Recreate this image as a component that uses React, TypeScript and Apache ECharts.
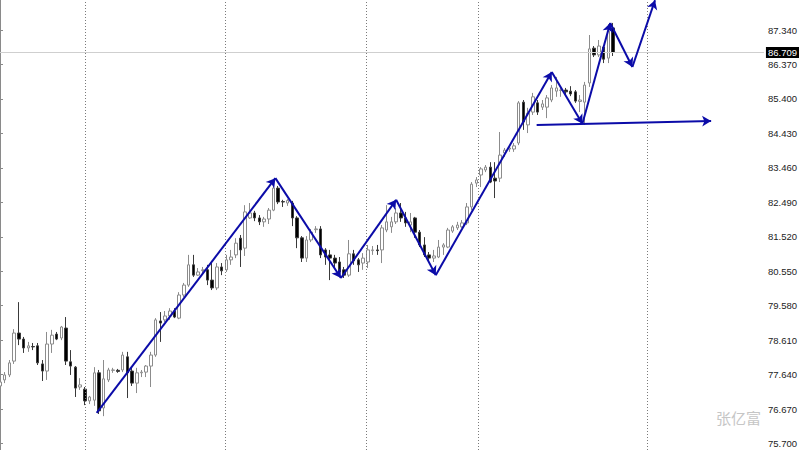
import React, { useEffect, useRef } from "react";
import * as echarts from "echarts";

const categories: string[] = Array.from({ length: 163 }, (_, i) => String(i));

// [open, close, low, high]
const candles: number[][] = [
  [77.32, 77.43, 77.21, 77.52], [77.49, 77.63, 77.40, 77.71], [77.63, 77.97, 77.57, 78.05], [78.02, 78.81, 77.94, 78.92],
  [78.81, 78.64, 78.47, 79.68], [78.64, 78.39, 78.25, 78.70], [78.39, 78.45, 78.28, 78.56], [78.43, 78.42, 78.33, 78.53],
  [78.45, 77.97, 77.91, 78.53], [77.94, 77.74, 77.46, 78.05], [77.74, 78.50, 77.49, 78.84], [78.50, 78.75, 78.25, 78.90],
  [78.78, 78.64, 78.61, 78.84], [78.67, 78.98, 78.61, 79.01], [78.95, 78.02, 77.91, 79.26], [78.00, 77.88, 77.63, 78.33],
  [77.85, 77.26, 77.01, 77.88], [77.29, 77.35, 77.21, 77.54], [77.23, 76.90, 76.78, 77.29], [76.90, 77.01, 76.81, 77.04],
  [76.92, 77.69, 76.76, 77.85], [77.69, 76.62, 76.53, 77.77], [76.70, 77.52, 76.47, 78.05], [77.49, 77.77, 77.43, 77.83],
  [77.76, 77.77, 77.69, 77.83], [77.76, 77.73, 77.69, 77.80], [77.77, 78.19, 77.71, 78.28], [78.14, 77.69, 76.98, 78.28],
  [77.74, 77.40, 77.32, 77.83], [77.40, 77.69, 77.12, 77.83], [77.69, 77.71, 77.57, 77.77], [77.71, 77.88, 77.57, 77.91],
  [77.88, 78.19, 77.29, 78.28], [78.19, 79.18, 78.14, 79.23], [79.15, 79.09, 78.56, 79.40], [79.18, 79.29, 79.12, 79.43],
  [79.29, 79.43, 79.18, 79.51], [79.43, 79.26, 79.23, 79.51], [79.23, 79.88, 79.20, 79.96], [79.88, 80.16, 79.82, 80.22],
  [80.16, 80.73, 80.11, 81.01], [80.73, 80.44, 80.39, 81.01], [80.44, 80.53, 80.42, 80.64], [80.57, 80.59, 80.50, 80.67],
  [80.59, 80.30, 80.16, 80.73], [80.30, 80.08, 80.02, 80.78], [80.08, 80.67, 80.02, 80.78], [80.67, 80.56, 80.44, 80.78],
  [80.59, 80.87, 80.53, 81.01], [80.87, 80.95, 80.73, 81.15], [81.01, 81.34, 80.92, 81.48], [81.48, 81.15, 80.67, 81.57],
  [81.20, 82.22, 80.98, 82.41], [82.05, 82.19, 82.02, 82.47], [82.19, 82.05, 81.96, 82.25], [82.05, 81.94, 81.85, 82.13],
  [81.94, 82.02, 81.80, 82.08], [82.02, 82.27, 81.88, 82.33], [82.27, 82.89, 82.24, 83.09], [82.89, 82.50, 82.44, 82.95],
  [82.51, 82.50, 82.36, 82.56], [82.47, 82.54, 82.39, 82.58], [82.47, 82.05, 81.82, 82.53], [82.05, 81.49, 81.20, 82.10],
  [81.49, 80.92, 80.81, 81.54], [80.92, 81.43, 80.81, 81.54], [81.43, 81.65, 81.37, 81.74], [81.72, 81.74, 81.63, 81.82],
  [81.74, 81.01, 80.92, 81.82], [81.15, 80.95, 80.73, 81.20], [81.01, 80.92, 80.30, 81.15], [80.92, 80.78, 80.67, 81.01],
  [80.81, 80.53, 80.44, 80.95], [80.59, 80.44, 80.36, 80.67], [80.44, 81.04, 80.39, 81.43], [81.04, 80.84, 80.73, 81.15],
  [80.87, 80.73, 80.53, 80.92], [80.78, 80.92, 80.59, 81.06], [80.81, 81.15, 80.64, 81.29], [81.13, 81.15, 81.01, 81.26],
  [81.15, 81.13, 81.01, 81.29], [81.15, 81.77, 80.78, 81.85], [81.71, 81.94, 81.65, 82.41], [81.80, 81.94, 81.63, 82.08],
  [81.94, 82.19, 81.88, 82.33], [82.19, 82.05, 81.94, 82.47], [82.05, 81.91, 81.80, 82.22], [81.85, 81.94, 81.65, 82.19],
  [82.05, 81.65, 81.49, 82.08], [81.65, 81.29, 81.23, 81.71], [81.29, 81.01, 80.95, 81.51], [81.01, 80.92, 80.81, 81.09],
  [80.92, 80.98, 80.81, 81.15], [80.95, 81.23, 80.92, 81.43], [81.23, 81.29, 81.01, 81.34], [81.23, 81.71, 81.20, 81.77],
  [81.68, 81.80, 81.63, 81.85], [81.77, 81.85, 81.71, 81.94], [81.80, 81.91, 81.77, 81.99], [81.91, 82.36, 81.85, 82.47],
  [82.36, 83.00, 82.27, 83.06], [83.03, 83.12, 82.92, 83.20], [83.26, 83.43, 82.92, 83.48], [83.40, 83.48, 83.34, 83.54],
  [83.48, 83.06, 83.03, 83.62], [83.17, 83.09, 82.61, 83.62], [83.17, 83.82, 83.06, 84.47], [83.88, 83.96, 83.77, 84.02],
  [83.99, 84.02, 83.91, 84.10], [83.99, 84.08, 83.91, 84.16], [84.16, 85.29, 84.10, 85.34], [85.31, 84.75, 84.53, 85.37],
  [84.67, 85.00, 84.44, 85.15], [85.03, 85.46, 84.95, 85.57], [85.29, 85.03, 84.95, 85.37], [85.17, 85.26, 85.09, 85.37],
  [85.17, 85.43, 84.86, 85.51], [85.37, 85.71, 85.31, 85.79], [85.62, 85.71, 85.46, 86.02], [85.64, 85.65, 85.46, 85.74],
  [85.65, 85.60, 85.51, 85.71], [85.62, 85.54, 85.48, 85.76], [85.60, 85.34, 85.29, 85.65], [85.33, 85.37, 85.03, 85.51],
  [85.31, 85.79, 84.67, 85.88], [85.85, 86.81, 85.74, 87.20], [86.83, 86.64, 86.58, 86.89], [86.64, 86.89, 86.58, 87.06],
  [86.86, 86.52, 86.41, 86.92], [86.55, 87.31, 86.41, 87.51], [87.40, 86.709, 86.61, 87.54],
];

const yTicks: number[] = [75.7, 76.67, 77.64, 78.61, 79.58, 80.55, 81.52, 82.49, 83.46, 84.43, 85.4, 86.37, 87.34];
const currentPrice = 86.709;

// zigzag vertices [bar index, price]
const zigzag: number[][] = [
  [20.5, 76.56], [58.4, 83.17], [72.3, 80.36], [84.0, 82.56], [92.4, 80.44],
  [117.0, 86.16], [123.5, 84.7], [129.4, 87.54], [134.1, 86.3], [138.9, 88.18],
];
const horizontalLine: number[][] = [[113.8, 84.67], [150.8, 84.78]];
const separators: number[] = [18.0, 47.8, 77.6, 101.5, 137.3];

const BLUE = "#0b0ba8";

export default function App() {
  const ref = useRef<HTMLDivElement>(null);
  useEffect(() => {
    if (!ref.current) return;
    const chart = echarts.init(ref.current, undefined, { renderer: "svg" });
    const segs: any[] = [];
    for (let i = 0; i < zigzag.length - 1; i++) {
      segs.push([{ coord: zigzag[i] }, { coord: zigzag[i + 1] }]);
    }
    segs.push([{ coord: horizontalLine[0] }, { coord: horizontalLine[1] }]);
    chart.setOption({
      animation: false,
      backgroundColor: "#ffffff",
      grid: { left: 0, right: 34, top: 0, bottom: 0, containLabel: false },
      xAxis: [
        { type: "category", data: categories, boundaryGap: false, show: false },
        { type: "value", min: 0, max: categories.length - 1, show: false },
      ],
      yAxis: {
        type: "value",
        position: "right",
        min: 75.517,
        max: 88.186,
        splitLine: { show: false },
        axisLine: { show: true, lineStyle: { color: "#8a8a8a", width: 1 } },
        axisTick: { show: true, length: 3, lineStyle: { color: "#8a8a8a" }, customValues: yTicks },
        axisLabel: {
          customValues: yTicks,
          formatter: (v: number) => v.toFixed(3),
          fontFamily: "Liberation Sans",
          fontSize: 9.5,
          color: "#222",
          margin: 4,
        },
      },
      graphic: [
        {
          type: "text",
          left: 716,
          top: 410,
          style: { text: "张亿富", fill: "#c6c6c6", font: '15px "Noto Sans CJK SC"' },
        },
      ],
      series: [
        {
          type: "candlestick",
          xAxisIndex: 0,
          data: candles,
          barWidth: 3,
          itemStyle: {
            color: "#ffffff",
            color0: "#000000",
            borderColor: "#8c8c8c",
            borderColor0: "#3a3a3a",
            borderWidth: 1,
          },
          markLine: {
            silent: true,
            symbol: "none",
            animation: false,
            data: [
              {
                yAxis: currentPrice,
                lineStyle: { color: "#cfcfcf", width: 1, type: "solid" },
                label: {
                  show: true,
                  position: "end",
                  distance: 2,
                  formatter: currentPrice.toFixed(3),
                  backgroundColor: "#000",
                  color: "#fff",
                  fontFamily: "Liberation Sans",
                  fontSize: 9.5,
                  padding: [1, 2, 0, 2],
                },
              },
            ],
          },
        },
        {
          type: "line",
          xAxisIndex: 1,
          data: [[0, 80]],
          showSymbol: false,
          symbol: "none",
          lineStyle: { width: 0 },
          markLine: {
            silent: true,
            symbol: "none",
            animation: false,
            label: { show: false },
            lineStyle: { color: "#7a7a7a", width: 1, type: [1, 2] },
            data: separators.map((s) => ({ xAxis: s })),
          },
        },
        {
          type: "line",
          xAxisIndex: 1,
          data: [[0, 80]],
          showSymbol: false,
          symbol: "none",
          lineStyle: { width: 0 },
          markLine: {
            silent: true,
            symbol: ["none", "arrow"],
            symbolSize: [8, 9],
            animation: false,
            label: { show: false },
            lineStyle: { color: BLUE, width: 2, type: "solid" },
            data: segs,
          },
        },
      ],
    });
    return () => chart.dispose();
  }, []);
  return (
    <div
      ref={ref}
      style={{ position: "fixed", left: 0, top: 0, width: 800, height: 450, background: "#fff" }}
    />
  );
}
